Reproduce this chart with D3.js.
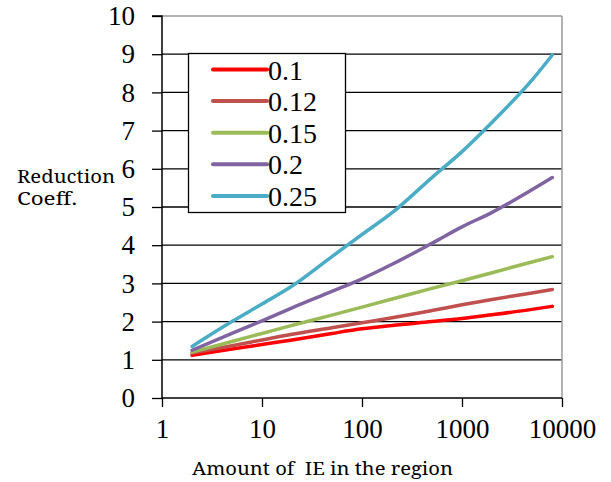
<!DOCTYPE html>
<html>
<head>
<meta charset="utf-8">
<script src="https://cdn.jsdelivr.net/npm/d3@7"></script>
<style>
html,body{margin:0;padding:0;background:#fff;}
svg{display:block;}
</style>
</head>
<body>
<svg id="chart" width="611" height="482"></svg>
<script>
const xValues = [2, 5, 10, 20, 50, 100, 200, 500, 1000, 2000, 5000, 8000];
const seriesNames = ["0.1", "0.12", "0.15", "0.2", "0.25"];
const s010 = [1.12, 1.28, 1.40, 1.52, 1.69, 1.81, 1.90, 2.00, 2.08, 2.18, 2.32, 2.40];
const s012 = [1.18, 1.37, 1.52, 1.67, 1.84, 1.97, 2.10, 2.29, 2.44, 2.58, 2.75, 2.84];
const s015 = [1.20, 1.48, 1.69, 1.90, 2.17, 2.38, 2.59, 2.87, 3.07, 3.28, 3.56, 3.70];
const s020 = [1.25, 1.69, 2.02, 2.36, 2.79, 3.12, 3.50, 4.05, 4.48, 4.86, 5.45, 5.77];
const s025 = [1.35, 2.00, 2.46, 2.93, 3.70, 4.28, 4.85, 5.77, 6.45, 7.22, 8.32, 8.98];
const seriesColors = ["#ff0000", "#c0504d", "#9bbb59", "#8064a2", "#4bacc6"];
const xTicks = [1, 10, 100, 1000, 10000];
const yTicks = [0, 1, 2, 3, 4, 5, 6, 7, 8, 9, 10];
const yTitle = ["Reduction", "Coeff."];
const xTitle = "Amount of  IE in the region";

const serif = "'Liberation Serif', 'Times New Roman', Times, serif";
const titleFont = "'Noto Serif', 'DejaVu Serif', serif";
const allSeries = [s010, s012, s015, s020, s025];
const svg = d3.select("#chart");
const x = d3.scaleLog().domain([1, 10000]).range([162, 562]);
const y = d3.scaleLinear().domain([0, 10]).range([398, 16]);

// gridlines
svg.append("g").selectAll("line").data(yTicks.filter(d => d > 0)).join("line")
  .attr("x1", x(1)).attr("x2", x(10000))
  .attr("y1", d => y(d)).attr("y2", d => y(d))
  .attr("stroke", d => d === 10 ? "#9a9a9a" : "#000")
  .attr("stroke-width", d => d === 10 ? 1.5 : 1.3);
// right border
svg.append("line").attr("x1", x(10000)).attr("x2", x(10000))
  .attr("y1", y(10)).attr("y2", y(0)).attr("stroke", "#9a9a9a").attr("stroke-width", 1.5);

// y axis
const yAxis = d3.axisLeft(y).tickValues(yTicks).tickSize(10).tickPadding(17).tickFormat(d3.format("d"));
const gy = svg.append("g").attr("transform", `translate(${x(1)},0)`).call(yAxis);
gy.select(".domain").attr("stroke", "#000").attr("stroke-width", 1.5).attr("d", `M-10,${y(10)}H0V${y(0)}`);
gy.selectAll(".tick line").attr("stroke", "#000").attr("stroke-width", 1.3);
gy.selectAll(".tick text").style("font-family", serif)
  .style("font-size", "27px").attr("fill", "#000");

// x axis
const xAxis = d3.axisBottom(x).tickValues(xTicks).tickSize(9).tickPadding(12).tickFormat(d3.format("d"));
const gx = svg.append("g").attr("transform", `translate(0,${y(0)})`).call(xAxis);
gx.select(".domain").attr("stroke", "#000").attr("stroke-width", 1.5).attr("d", `M${x(1)},0H${x(10000)}`);
gx.selectAll(".tick line").attr("stroke", "#000").attr("stroke-width", 1.3);
gx.selectAll(".tick text").style("font-family", serif)
  .style("font-size", "27px").attr("fill", "#000");

// lines
const line = d3.line().x((d, i) => x(xValues[i])).y(d => y(d)).curve(d3.curveMonotoneX);
svg.append("g").selectAll("path").data(allSeries).join("path")
  .attr("d", d => line(d))
  .attr("fill", "none")
  .attr("stroke", (d, i) => seriesColors[i])
  .attr("stroke-width", 3.5)
  .attr("stroke-linecap", "round")
  .attr("stroke-linejoin", "round");

// legend
const lg = svg.append("g");
lg.append("rect").attr("x", 188.5).attr("y", 53.5).attr("width", 157).attr("height", 159)
  .attr("fill", "#fff").attr("stroke", "#000").attr("stroke-width", 1.3);
const rows = lg.selectAll("g.row").data(seriesNames).join("g")
  .attr("transform", (d, i) => `translate(0,${69.5 + i * 31.6})`);
rows.append("line").attr("x1", 213).attr("x2", 267).attr("y1", 0).attr("y2", 0)
  .attr("stroke", (d, i) => seriesColors[i]).attr("stroke-width", 4).attr("stroke-linecap", "round");
rows.append("text").attr("x", 268).attr("y", 10).text(d => d)
  .style("font-family", serif).style("font-size", "28px").attr("fill", "#000");

// titles
const yTitleWidths = [98, 60];
svg.append("g").selectAll("text").data(yTitle).join("text")
  .attr("x", 17).attr("y", (d, i) => 183 + i * 22)
  .style("font-family", titleFont).style("font-size", "17.5px").attr("fill", "#000")
  .attr("textLength", (d, i) => yTitleWidths[i]).attr("lengthAdjust", "spacingAndGlyphs")
  .text(d => d);
svg.append("text").attr("x", 192).attr("y", 475)
  .style("font-family", titleFont).style("font-size", "18px").attr("fill", "#000")
  .attr("xml:space", "preserve")
  .attr("textLength", 261).attr("lengthAdjust", "spacingAndGlyphs")
  .text(xTitle);
</script>
</body>
</html>
